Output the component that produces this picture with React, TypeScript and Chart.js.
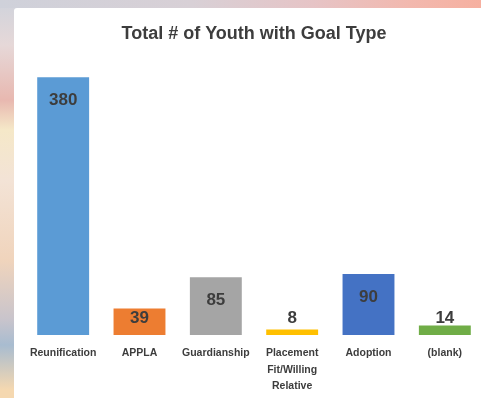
import React, { useEffect, useRef } from "react";
import { Chart, registerables } from "chart.js";

Chart.register(...registerables);

const categories: (string | string[])[] = [
  "Reunification",
  "APPLA",
  "Guardianship",
  ["Placement", "Fit/Willing", "Relative"],
  "Adoption",
  "(blank)",
];
const youthCounts = [380, 39, 85, 8, 90, 14];
const barColors = ["#5B9BD5", "#ED7D31", "#A5A5A5", "#FFC000", "#4472C4", "#70AD47"];
const chartTitle = "Total # of Youth with Goal Type";
const axisMax = 400;

const TEXT = "#3d3d3d";
const SANS = "'Liberation Sans', Arial, sans-serif";

const valueLabels = {
  id: "valueLabels",
  afterDatasetsDraw(chart: any) {
    const ctx = chart.ctx;
    const meta = chart.getDatasetMeta(0);
    ctx.save();
    ctx.font = `bold 17px ${SANS}`;
    ctx.fillStyle = TEXT;
    ctx.textAlign = "center";
    ctx.textBaseline = "middle";
    meta.data.forEach((el: any, i: number) => {
      const y = Math.min(el.y + 23, el.base - 17);
      ctx.fillText(String(chart.data.datasets[0].data[i]), el.x, y);
    });
    ctx.restore();
  },
};

export default function App() {
  const ref = useRef<HTMLCanvasElement>(null);
  useEffect(() => {
    if (!ref.current) return;
    const chart = new Chart(ref.current, {
      type: "bar",
      data: {
        labels: categories,
        datasets: [
          {
            data: youthCounts,
            backgroundColor: barColors,
            borderWidth: 0,
            barPercentage: 0.68,
            categoryPercentage: 1,
          },
        ],
      },
      options: {
        animation: false,
        responsive: false,
        events: [],
        layout: { padding: { left: 25, right: 7, top: 8, bottom: 4.5 } },
        plugins: {
          legend: { display: false },
          tooltip: { enabled: false },
          title: {
            display: true,
            text: chartTitle,
            color: TEXT,
            font: { family: SANS, size: 18, weight: "bold", lineHeight: 1.2 },
            padding: { top: 15, bottom: 19 },
          },
        },
        scales: {
          x: {
            grid: { display: false, drawTicks: false },
            border: { display: false },
            ticks: {
              color: TEXT,
              padding: 10,
              maxRotation: 0,
              autoSkip: false,
              font: { family: SANS, size: 10.5, weight: "bold", lineHeight: 1.57 },
            },
          },
          y: { display: false, min: 0, max: axisMax },
        },
      },
      plugins: [valueLabels],
    });
    return () => chart.destroy();
  }, []);

  return (
    <div
      style={{
        position: "fixed",
        left: 0,
        top: 0,
        width: 481,
        height: 398,
        overflow: "hidden",
        background:
          "linear-gradient(180deg, #cfd3dc 0px, #e6d8d8 45px, #e8b8b0 100px, #f5e8c8 130px, #f3e3d6 180px, #f0d4bc 260px, #c8c4cc 320px, #a8bcd0 345px, #f5d8b0 390px)",
      }}
    >
      <div
        style={{
          position: "absolute",
          left: 0,
          top: 0,
          width: 481,
          height: 8,
          background: "linear-gradient(90deg, #cfd1da 0%, #d8d0d6 40%, #e6c4c6 65%, #f2b8ae 85%, #f6b0a0 100%)",
        }}
      />
      <div
        style={{
          position: "absolute",
          left: 14,
          top: 8,
          width: 467,
          height: 390,
          background: "#ffffff",
          borderTopLeftRadius: 3,
        }}
      />
      <canvas
        ref={ref}
        width={490}
        height={409}
        style={{ position: "absolute", left: 0, top: 0, width: 490, height: 409 }}
      />
    </div>
  );
}
